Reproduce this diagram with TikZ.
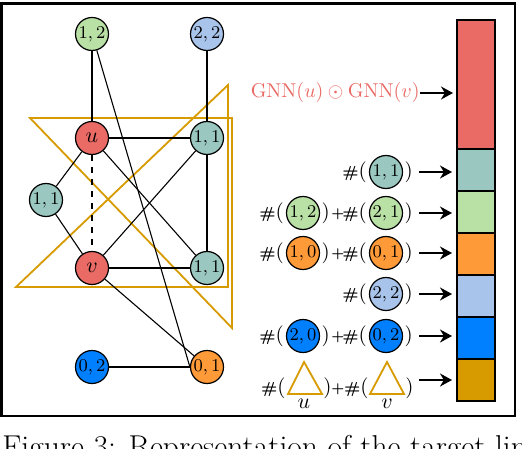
\documentclass[tikz,border=0pt]{standalone}
\usetikzlibrary{arrows.meta}
\definecolor{cred}{HTML}{EA6B66}
\definecolor{cteal}{HTML}{9AC7BF}
\definecolor{cgreen}{HTML}{B9E0A5}
\definecolor{corange}{HTML}{FF9A38}
\definecolor{clblue}{HTML}{A9C4EB}
\definecolor{cblue}{HTML}{007FFF}
\definecolor{cgold}{HTML}{D79B00}
\tikzset{
  gn/.style={circle,draw,line width=0.6pt,minimum size=16.5pt,inner sep=0pt,font=\fontsize{9.5}{10}\selectfont},
  edge/.style={line width=0.55pt},
  tri/.style={draw=cgold,line width=0.9pt},
  seg/.style={draw,line width=0.8pt,minimum width=19pt,inner sep=0pt,anchor=north west},
  arr/.style={line width=1.1pt,-{Stealth[length=6pt,width=6.5pt]}},
  lbl/.style={inner sep=0pt},
}
\newcommand{\hsh}{{\fontsize{8}{9}\selectfont\textbf{\#}}{\fontsize{10.5}{12}\selectfont(}}
\newcommand{\cls}{{\fontsize{10.5}{12}\selectfont)}}
\newcommand{\pls}{{\fontsize{6.5}{8}\selectfont\textbf{+}}}
\newcommand{\cntlabel}[5]{%
  \node[gn,fill=#5] (#1c) at (#2,#3) {$#4$};
  \node[lbl,anchor=east] (#1h) at ([xshift=-0.8pt]#1c.west) {\hsh};
  \node[lbl,anchor=west] (#1p) at ([xshift=0.5pt]#1c.east) {\cls};
}
\begin{document}
\begin{tikzpicture}[x=0.5pt,y=-0.5pt]
\useasboundingbox (0,0) rectangle (522,448);
\clip (0,0) rectangle (522,448);
\fill[white] (0,0) rectangle (522,448);
% frame
\draw[line width=1.3pt] (1.5,3.5) rectangle (515,416);

% orange triangles in graph
\coordinate (t1a) at (30,118);
\coordinate (t1b) at (232,118);
\coordinate (t1c) at (232,328);
\coordinate (t2a) at (228,85);
\coordinate (t2b) at (16,287);
\coordinate (t2c) at (228,287);
\draw[tri] (t1a) -- (t1b) -- (t1c) -- cycle;
\draw[tri] (t2a) -- (t2b) -- (t2c) -- cycle;

% graph nodes
\node[gn,fill=cgreen] (n12) at (92,34) {$1,2$};
\node[gn,fill=clblue] (n22) at (207,34) {$2,2$};
\node[gn,fill=cred,font=\fontsize{10.5}{12}\selectfont] (u) at (92,138) {$u$};
\node[gn,fill=cteal] (n11a) at (207,138) {$1,1$};
\node[gn,fill=cteal] (n11l) at (46,200) {$1,1$};
\node[gn,fill=cred,font=\fontsize{10.5}{12}\selectfont] (v) at (92,268) {$v$};
\node[gn,fill=cteal] (n11b) at (207,268) {$1,1$};
\node[gn,fill=cblue] (n02) at (92,367) {$0,2$};
\node[gn,fill=corange] (n01) at (207,367) {$0,1$};

% graph edges
\draw[edge] (n12) -- (u);
\draw[edge] (n12) -- (n01.west);
\draw[edge] (n22) -- (n11a);
\draw[edge] (u) -- (n11a);
\draw[edge] (u) -- (n11l);
\draw[edge,dashed] (u) -- (v);
\draw[edge] (u) -- (n11b);
\draw[edge] (n11a) -- (v);
\draw[edge] (n11a) -- (n11b);
\draw[edge] (n11l) -- (v);
\draw[line width=1.1pt] (v) -- (n11b);
\draw[edge] (v) -- (n01);
\draw[edge] (n02) -- (n01);

% bar
\node[seg,fill=cred,minimum height=64.5pt] (b1) at (456,19) {};
\node[seg,fill=cteal,minimum height=21pt] (b2) at (456,148) {};
\node[seg,fill=cgreen,minimum height=21pt] (b3) at (456,190) {};
\node[seg,fill=corange,minimum height=21pt] (b4) at (456,232) {};
\node[seg,fill=clblue,minimum height=21pt] (b5) at (456,274) {};
\node[seg,fill=cblue,minimum height=21pt] (b6) at (456,316) {};
\node[seg,fill=cgold,minimum height=21pt] (b7) at (456,358) {};

% GNN label
\node[lbl,anchor=east,text=cred,font=\fontsize{9.8}{11}\selectfont] (gnn) at (420,93) {$\mathrm{GNN}(u)\odot\mathrm{GNN}(v)$};
\draw[arr,shorten >=1.5pt] (gnn.east) -- (gnn.east -| b1.west);

% count labels
\cntlabel{r1}{386}{172}{1,1}{cteal}
\cntlabel{r2a}{303}{213}{1,2}{cgreen}
\cntlabel{r2b}{386}{213}{2,1}{cgreen}
\node[lbl] (r2plus) at (338,214) {\pls};
\cntlabel{r3a}{303}{253}{1,0}{corange}
\cntlabel{r3b}{386}{253}{0,1}{corange}
\node[lbl] (r3plus) at (338,254) {\pls};
\cntlabel{r4}{386}{294}{2,2}{clblue}
\cntlabel{r5a}{303}{336}{2,0}{cblue}
\cntlabel{r5b}{386}{336}{0,2}{cblue}
\node[lbl] (r5plus) at (338,337) {\pls};

% triangle row
\coordinate (la) at (304,362);
\coordinate (lb) at (288,394);
\coordinate (lc) at (322,394);
\coordinate (ra) at (387,362);
\coordinate (rb) at (370,394);
\coordinate (rc) at (404,394);
\draw[tri] (la) -- (lb) -- (lc) -- cycle;
\draw[tri] (ra) -- (rb) -- (rc) -- cycle;
\node[lbl,anchor=east] (r6ah) at (286,388) {\hsh};
\node[lbl,anchor=west] (r6ap) at (323,388) {\cls};
\node[lbl] (r6plus) at (338,389) {\pls};
\node[lbl,anchor=east] (r6bh) at (369,388) {\hsh};
\node[lbl,anchor=west] (r6bp) at (405,388) {\cls};
\node[lbl,font=\fontsize{10.5}{12}\selectfont] (r6u) at (304,404) {$u$};
\node[lbl,font=\fontsize{10.5}{12}\selectfont] (r6v) at (387,404) {$v$};

% arrows
\coordinate (s1) at (419,172);
\coordinate (s2) at (419,213);
\coordinate (s3) at (419,253);
\coordinate (s4) at (419,294);
\coordinate (s5) at (419,336);
\coordinate (s6) at (419,380);
\draw[arr,shorten >=2pt] (s1) -- (s1 -| b2.west);
\draw[arr,shorten >=2pt] (s2) -- (s2 -| b3.west);
\draw[arr,shorten >=2pt] (s3) -- (s3 -| b4.west);
\draw[arr,shorten >=2pt] (s4) -- (s4 -| b5.west);
\draw[arr,shorten >=2pt] (s5) -- (s5 -| b6.west);
\draw[arr,shorten >=2pt] (s6) -- (s6 -| b7.west);

% caption (cut off)
\node[anchor=base west,inner sep=0pt,font=\fontsize{15.8}{19}\selectfont] (cap) at (2,457) {Figure 3: Representation of the target link prediction};
\end{tikzpicture}
\end{document}
